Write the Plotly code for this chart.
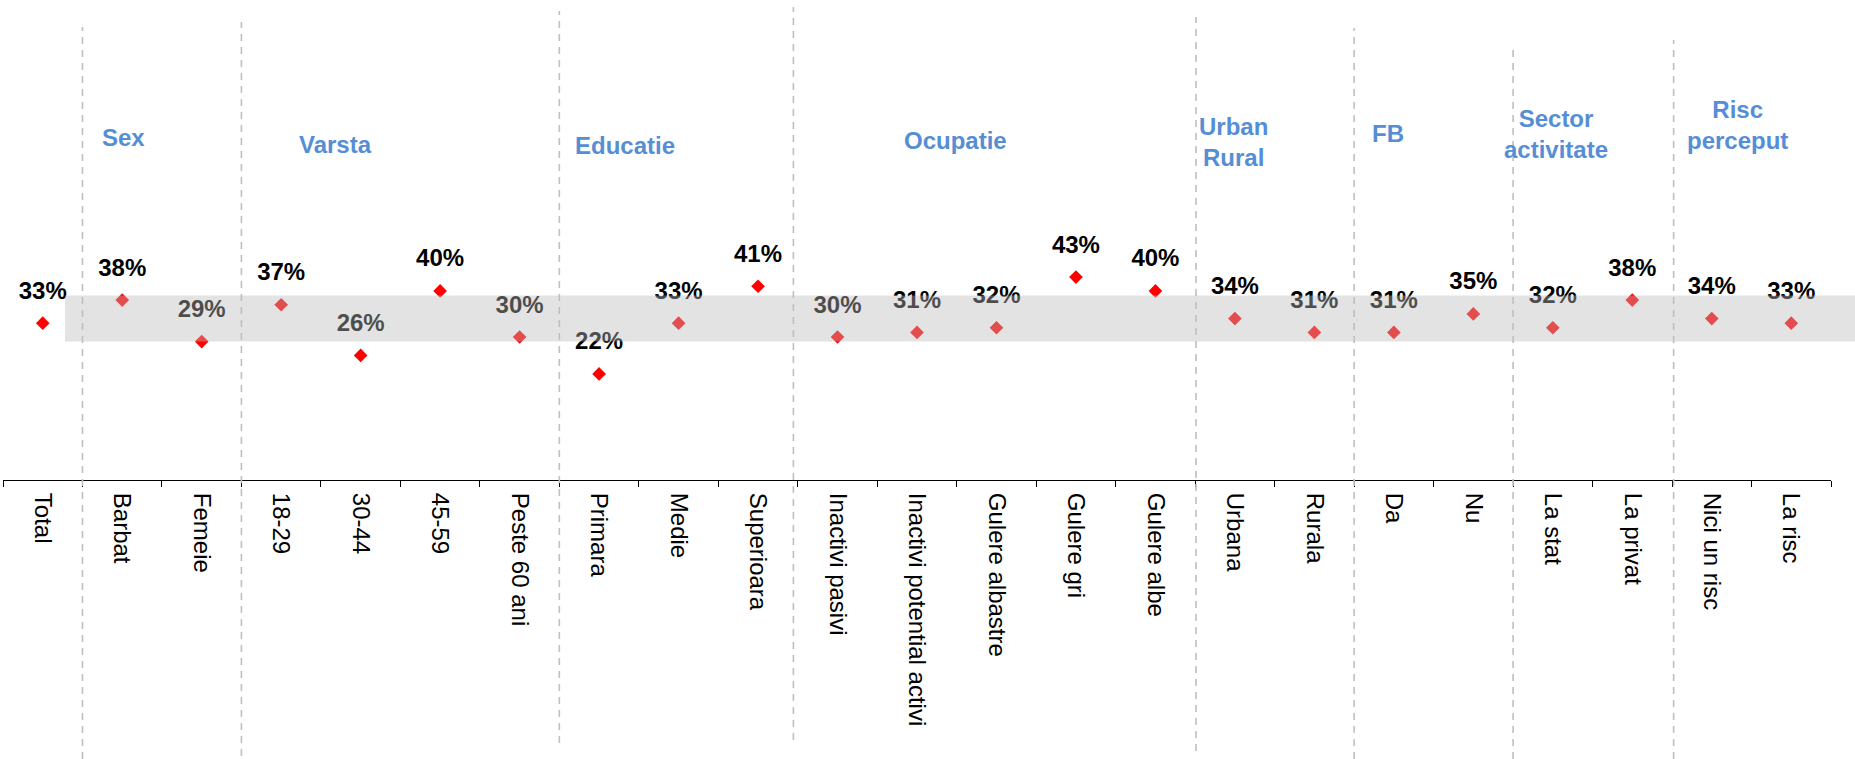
import plotly.graph_objects as go

# ---- data ----
categories = ["Total", "Barbat", "Femeie", "18-29", "30-44", "45-59", "Peste 60 ani",
              "Primara", "Medie", "Superioara", "Inactivi pasivi", "Inactivi potential activi",
              "Gulere albastre", "Gulere gri", "Gulere albe", "Urbana", "Rurala", "Da", "Nu",
              "La stat", "La privat", "Nici un risc", "La risc"]
values = [33, 38, 29, 37, 26, 40, 30, 22, 33, 41, 30, 31, 32, 43, 40, 34, 31, 31, 35, 32, 38, 34, 33]

group_names = ["Sex", "Varsta", "Educatie", "Ocupatie", "Urban<br>Rural", "FB",
               "Sector<br>activitate", "Risc<br>perceput"]
group_sizes = [1, 2, 4, 3, 5, 2, 2, 2, 2]  # first entry = "Total"

band_low, band_high = 29, 39  # grey reference band (%)

# ---- styling / layout helpers ----
W, H = 1855, 759
ML, MR, MT, MB = 3, 24, 0, 279
PLOT_H = H - MT - MB
FONT = "Arial, Liberation Sans, Helvetica, sans-serif"
BLUE = "#558ED5"

def py(ypx):
    """pixel row -> paper y"""
    return (H - MB - ypx) / PLOT_H

# title placement (category index offsets, pixel rows)
title_x = [1.02, 3.68, 7.32, 11.48, 14.98, 16.92, 19.04, 21.32]
title_y = [137, 144, 145, 141, 142, 133, 134, 125]
# separator line extents (pixel rows) and small horizontal nudges (category units)
sep_top = [27, 22, 11, 7, 17, 28, 48, 40]
sep_bot = [759, 756, 743, 740, 751, 759, 759, 759]
sep_nudge = [0, 0, 0, -0.055, 0.01, 0, 0, 0.02]

fig = go.Figure()
# labels (carried by a transparent, larger marker so the text sits higher)
fig.add_trace(go.Scatter(
    x=categories, y=values, mode="markers+text",
    marker=dict(symbol="diamond", size=28, color="rgba(0,0,0,0)", line=dict(width=0)),
    text=[f"{v}%" for v in values], texttemplate="<b>%{text}</b>", textposition="top center",
    textfont=dict(family=FONT, size=24, color="#000000"),
    cliponaxis=False, hoverinfo="skip", showlegend=False,
))
# visible markers
fig.add_trace(go.Scatter(
    x=categories, y=values, mode="markers",
    marker=dict(symbol="diamond", size=10.5, color="#FF0000", line=dict(width=0)),
    cliponaxis=False, hoverinfo="skip", showlegend=False,
))

shapes = []
# grey band drawn above the marks (semi-transparent)
shapes.append(dict(type="rect", xref="x domain", yref="y",
                   x0=(65 - ML) / (W - ML - MR), x1=1.02, y0=band_low, y1=band_high,
                   fillcolor="rgba(186,186,186,0.41)", line=dict(width=0), layer="above"))
# dashed separators between groups
b = 0
for i, s in enumerate(group_sizes[:-1]):
    b += s
    pos = b - 0.5 + sep_nudge[i]
    shapes.append(dict(type="line", xref="x", yref="paper", x0=pos, x1=pos,
                       y0=py(sep_bot[i]), y1=py(sep_top[i]),
                       line=dict(color="#BFBFBF", width=1.6, dash="7px,6px"), layer="above"))

annotations = []
for name, tx, ty in zip(group_names, title_x, title_y):
    annotations.append(dict(text=f"<b>{name}</b>", x=tx, xref="x", y=py(ty), yref="paper",
                            showarrow=False, xanchor="center", yanchor="middle",
                            font=dict(family=FONT, size=24, color=BLUE)))

fig.update_layout(
    width=W, height=H, margin=dict(l=ML, r=MR, t=MT, b=MB, autoexpand=False),
    paper_bgcolor="white", plot_bgcolor="white",
    shapes=shapes, annotations=annotations, showlegend=False,
    font=dict(family=FONT, size=24, color="#000000"),
)
fig.update_xaxes(type="category", tickson="boundaries", ticks="outside", ticklen=6,
                 tickcolor="#000000", tickwidth=1, showline=True, linecolor="#000000",
                 linewidth=1, showgrid=False, zeroline=False, tickangle=90,
                 ticklabelstandoff=7,
                 tickfont=dict(family=FONT, size=24, color="#000000"), automargin=False,
                 range=[-0.5, len(categories) - 0.5])
fig.update_yaxes(visible=False, range=[-1.02, 103.1], showgrid=False, zeroline=False)

fig.write_html("out.html", config={"displayModeBar": False},
               post_script="document.body.style.margin='0';document.body.style.overflow='hidden';")
